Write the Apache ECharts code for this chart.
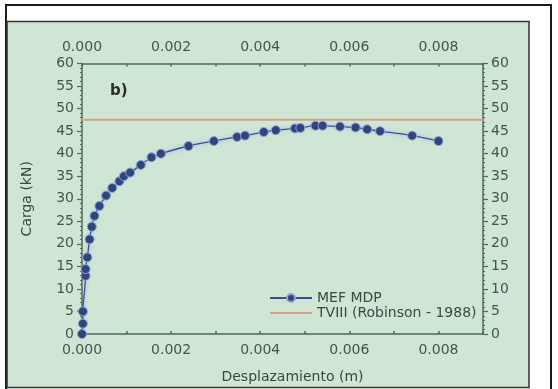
<!DOCTYPE html>
<html>
<head>
<meta charset="utf-8">
<script src="https://cdn.jsdelivr.net/npm/echarts@6/dist/echarts.min.js"></script>
<style>
html,body{margin:0;padding:0;background:#fff;}
#c{width:558px;height:389px;}
</style>
</head>
<body>
<div id="c"></div>
<script>
// Data
var dispX = [0, 0.00002, 0.00002, 0.00008, 0.00008, 0.00012, 0.00017, 0.00022, 0.00028, 0.00039,
  0.00054, 0.00068, 0.00084, 0.00094, 0.00108, 0.00132, 0.00156, 0.00177, 0.00239, 0.00296,
  0.00348, 0.00366, 0.00408, 0.00435, 0.00478, 0.0049, 0.00524, 0.0054, 0.00579, 0.00614,
  0.0064, 0.00669, 0.00741, 0.008];
var loadY = [0, 2.3, 5.0, 12.9, 14.4, 17.0, 21.0, 23.8, 26.2, 28.4,
  30.7, 32.4, 33.9, 35.0, 35.8, 37.5, 39.2, 40.0, 41.7, 42.8,
  43.7, 44.0, 44.8, 45.2, 45.6, 45.7, 46.2, 46.2, 46.0, 45.8,
  45.4, 45.0, 44.0, 42.8];
var refX = [0, 0.009];
var refY = [47.5, 47.5];
var seriesNames = ['MEF MDP', 'TVIII (Robinson - 1988)'];
var xTitle = 'Desplazamiento (m)';
var yTitle = 'Carga (kN)';
var panelLabel = 'b)';

var mefData = dispX.map(function (x, i) { return [x, loadY[i]]; });
var refData = refX.map(function (x, i) { return [x, refY[i]]; });

var FONT = 'DejaVu Sans';
var TXT = '#46554b';
var AX = '#4f6a55';

function xAxisCfg(pos, withName) {
  var a = {
    type: 'value', position: pos, min: 0, max: 0.009, interval: 0.002,
    axisLine: { show: true, onZero: false, lineStyle: { color: AX, width: 1.5 } },
    axisTick: { show: true, inside: true, length: 3, lineStyle: { color: AX, width: 1.5 } },
    minorTick: { show: true, splitNumber: 2, length: 3, lineStyle: { color: AX, width: 1.5 } },
    splitLine: { show: false },
    axisLabel: { show: true, margin: 9, showMaxLabel: false, color: TXT, fontFamily: FONT, fontSize: 14,
      formatter: function (v) { return v.toFixed(3); } }
  };
  if (withName) {
    a.name = xTitle;
    a.nameLocation = 'middle';
    a.nameGap = 36;
    a.nameTextStyle = { color: '#3c4640', fontFamily: FONT, fontSize: 14, padding: [0, 0, 0, 20] };
  }
  return a;
}
function yAxisCfg(pos, withName) {
  var a = {
    type: 'value', position: pos, min: 0, max: 60, interval: 5,
    axisLine: { show: true, onZero: false, lineStyle: { color: AX, width: 1.5 } },
    axisTick: { show: true, inside: false, length: 5, lineStyle: { color: AX, width: 1.2 } },
    minorTick: { show: true, splitNumber: 5, length: 2, lineStyle: { color: AX, width: 1 } },
    splitLine: { show: false },
    axisLabel: { show: true, margin: 8, color: TXT, fontFamily: FONT, fontSize: 14 }
  };
  if (withName) {
    a.name = yTitle;
    a.nameLocation = 'middle';
    a.nameGap = 48;
    a.nameTextStyle = { color: '#3c4640', fontFamily: FONT, fontSize: 14 };
  }
  return a;
}

var chart = echarts.init(document.getElementById('c'), null, { renderer: 'canvas' });
chart.setOption({
  animation: false,
  backgroundColor: '#ffffff',
  graphic: [
    { type: 'rect', z: -20, shape: { x: 6, y: 5, width: 545, height: 395 },
      style: { fill: '#ffffff', stroke: '#1a1a1a', lineWidth: 2 } },
    { type: 'rect', z: -19, shape: { x: 7, y: 21.5, width: 522, height: 366 },
      style: { fill: '#cfe6d5', stroke: '#2e3430', lineWidth: 1.5 } },
    { type: 'text', z: 10, left: 110, top: 84,
      style: { text: panelLabel, fill: '#2a2f2b', font: 'bold 15px "DejaVu Sans"' } }
  ],
  grid: { left: 82, right: 75, top: 63.5, bottom: 55, containLabel: false },
  legend: {
    data: [
      { name: seriesNames[0] },
      { name: seriesNames[1], icon: 'path://M0,0 L42,0 L42,0.05 Z M0,4 L42,4 L42,6 L0,6 Z M0,10 L42,10 L42,9.95 Z' }
    ],
    orient: 'vertical', left: 264, top: 286,
    itemWidth: 42, itemHeight: 10, itemGap: 1,
    textStyle: { color: '#3a4a40', fontFamily: FONT, fontSize: 14 }
  },
  xAxis: [xAxisCfg('bottom', true), xAxisCfg('top', false)],
  yAxis: [yAxisCfg('left', true), yAxisCfg('right', false)],
  series: [
    {
      name: seriesNames[0], type: 'line', xAxisIndex: 0, yAxisIndex: 0,
      data: mefData, smooth: 0.3,
      symbol: 'circle', symbolSize: 9,
      itemStyle: { color: '#30457e', borderColor: '#8ea4d8', borderWidth: 1 },
      lineStyle: { color: '#3c5090', width: 1.3, shadowColor: 'rgba(120,150,230,0.7)', shadowBlur: 4 },
      z: 5
    },
    {
      name: seriesNames[1], type: 'line', xAxisIndex: 0, yAxisIndex: 0,
      data: refData, symbol: 'none',
      itemStyle: { color: '#d7a08a' },
      lineStyle: { color: '#d7a08a', width: 2 },
      z: 4
    }
  ]
});
</script>
</body>
</html>
